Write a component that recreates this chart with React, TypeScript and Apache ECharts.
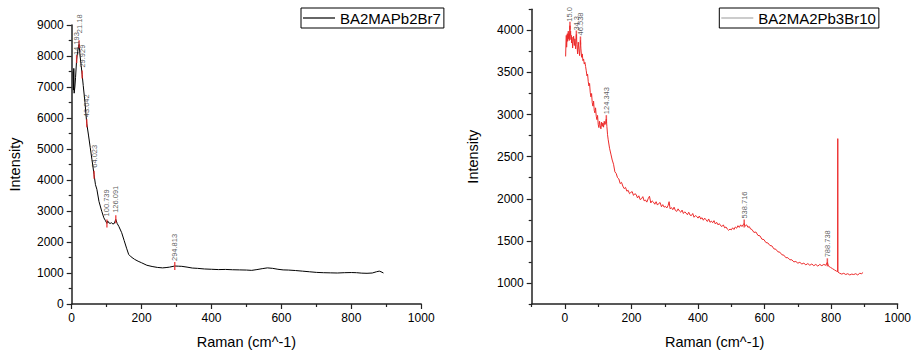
import React, { useEffect, useRef } from "react";
import * as echarts from "echarts";

// ---------- Left chart: BA2MAPb2Br7 ----------
const leftName = "BA2MAPb2Br7";
const leftX = [
  4, 5, 6, 7, 9, 11, 14.2, 17, 21.2, 24, 27, 29.9, 33, 38, 43,
  48, 53, 58, 64, 68, 72, 78, 86, 92, 96, 100.7, 103, 106, 110, 114, 118, 122, 126.1, 130, 135,
  143, 150, 157, 163, 170, 180, 190, 200, 215, 230, 245, 260, 270, 280, 294.8, 305, 315, 330, 345, 360,
  380, 400, 420, 440, 460, 480, 500, 515, 530, 545, 560, 575, 590, 605, 620, 640, 660, 680, 700, 720,
  740, 760, 780, 800, 815, 830, 845, 860, 872, 880, 885, 892,
];
const leftY = [
  7500, 6900, 7600, 6800, 7000, 7300, 7900, 8150, 8380, 8000, 7700, 7400, 7050, 6500, 5830,
  5450, 5050, 4650, 4170, 3850, 3700, 3310, 2990, 2780, 2700, 2600, 2680, 2620, 2600, 2620, 2580, 2600, 2730, 2600, 2500,
  2300, 2050, 1800, 1600, 1520, 1440, 1380, 1330, 1250, 1210, 1180, 1165, 1175, 1190, 1225, 1220, 1215, 1190, 1160, 1150,
  1130, 1120, 1110, 1115, 1105, 1100, 1095, 1085, 1110, 1140, 1165, 1150, 1120, 1100, 1095, 1080, 1060, 1040, 1020, 1010,
  1005, 1000, 1010, 1015, 1010, 995, 990, 1000, 1040, 1060, 1040, 1000,
];
const leftPeakX = [14.193, 21.18, 29.929, 43.042, 64.023, 100.739, 126.091, 294.813];
const leftPeakY = [7900, 8380, 7400, 5830, 4170, 2600, 2730, 1225];
const leftPeakLabels = ["14.193", "21.18", "29.929", "43.042", "64.023", "100.739", "126.091", "294.813"];
const leftYTicks = [0, 1000, 2000, 3000, 4000, 5000, 6000, 7000, 8000, 9000];
const leftXTicks = [0, 200, 400, 600, 800, 1000];

// ---------- Right chart: BA2MA2Pb3Br10 ----------
const rightName = "BA2MA2Pb3Br10";
const rightX = [
  2, 3, 4, 5, 6, 7, 8, 9, 10, 11, 12, 13, 14, 15, 16, 17, 18, 19, 20, 21,
  22, 23, 24, 26, 28, 30, 32, 34.3, 36, 38, 40, 42, 44, 46.5, 48, 50, 52, 54, 56, 58,
  60, 62, 64, 66, 68, 70, 72, 74, 76, 78, 80, 82, 84, 86, 88, 90, 92, 94, 96, 98,
  100, 102, 104, 106, 108, 110, 112, 114, 116, 118, 120, 122, 124.3, 126, 128,
  130, 134, 138, 142, 146, 150, 154, 158, 162, 166, 170, 174, 178, 182, 186, 190, 194, 198, 202, 206,
  210, 214, 218, 222, 226, 230, 234, 238, 242, 246, 250, 254, 258, 262, 266, 270, 274, 278, 282, 286,
  290, 294, 298, 302, 306, 310, 313, 316, 320, 324, 328, 332, 336, 340, 344, 348, 352, 356, 360, 364,
  368, 372, 376, 380, 384, 388, 392, 396, 400, 404, 408, 412, 416, 420, 424, 428, 432, 436, 440, 444,
  448, 452, 456, 460, 464, 468, 472, 476, 480, 484, 488, 492, 496, 500, 504, 508, 512, 516, 520, 524,
  528, 532, 536, 538.7, 542, 546, 550, 554, 558,
  562, 568, 574, 580, 586, 592, 598, 604, 610, 616, 622, 628, 634, 640, 646, 652, 658, 664, 670, 676,
  682, 688, 694, 700, 706, 712, 718, 724, 730, 736, 742, 748, 754, 760, 766, 772, 778, 784, 788.7, 792,
  798, 804, 810, 816, 819.6, 820, 820.4, 826, 832, 838, 844, 850, 856, 862, 868, 874, 880, 886, 892, 896,
];
const rightY = [
  3690, 3850, 3940, 3800, 3880, 3960, 3870, 3930, 3990, 3900, 3950, 3880, 3980, 4055, 3940, 3990, 3890, 3940, 3850, 3920,
  3870, 3790, 3860, 3930, 3820, 3900, 3780, 3950, 3830, 3720, 3860, 3770, 3700, 3880, 3780, 3680, 3720, 3640, 3660, 3600,
  3620, 3570, 3520, 3460, 3480, 3390, 3340, 3370, 3260, 3210, 3250, 3140, 3100, 3160, 3050, 3020, 3080, 2980, 2940, 2990,
  2880, 2845, 2920, 2870, 2830, 2910, 2860, 2900, 2850, 2920, 2880, 2900, 2945, 2860, 2760,
  2700, 2600, 2530, 2460, 2410, 2320, 2300, 2250, 2235, 2180, 2195, 2150, 2120, 2135, 2090, 2100, 2060, 2075, 2085, 2040,
  2060, 2050, 2010, 2035, 1990, 2000, 2025, 1975, 1985, 1960, 2000, 2030, 1950, 1975, 1960, 1935, 1965, 1925, 1945, 1955,
  1905, 1930, 1900, 1910, 1890, 1920, 1965, 1880, 1895, 1870, 1900, 1860, 1850, 1880, 1855, 1840, 1865, 1825, 1845, 1830,
  1810, 1840, 1805, 1800, 1825, 1780, 1800, 1790, 1770, 1795, 1760, 1775, 1745, 1770, 1750, 1730, 1760, 1720, 1735, 1715,
  1740, 1700, 1720, 1690, 1705, 1680, 1670, 1690, 1655, 1665, 1640, 1625, 1640, 1630, 1655, 1635, 1665, 1650, 1680, 1660,
  1690, 1670, 1695, 1705, 1675, 1690, 1660, 1670, 1640,
  1635, 1600, 1605, 1565, 1560, 1520, 1515, 1480, 1475, 1445, 1440, 1405, 1400, 1370, 1365, 1335, 1330, 1300, 1300, 1275,
  1275, 1250, 1255, 1235, 1245, 1225, 1235, 1215, 1230, 1210, 1225, 1205, 1220, 1200, 1220, 1205, 1220, 1210, 1245, 1200,
  1185, 1170, 1155, 1140, 1135, 2714, 1130, 1115, 1105, 1115, 1100, 1110, 1095, 1105, 1100, 1110, 1095, 1115, 1110, 1125,
];
const rightPeakX = [15.0, 34.3, 46.538, 124.343, 538.716, 788.738];
const rightPeakY = [4055, 3950, 3880, 2945, 1705, 1245];
const rightPeakLabels = ["15.0", "34.3", "46.538", "124.343", "538.716", "788.738"];
const rightYTicks = [1000, 1500, 2000, 2500, 3000, 3500, 4000];
const rightYMinorTicks = [750, 1250, 1750, 2250, 2750, 3250, 3750, 4250];
const rightXTicks = [0, 200, 400, 600, 800, 1000];
const rightXMinorTicks = [-100, 100, 300, 500, 700, 900];

const xName = "Raman (cm^-1)";
const yName = "Intensity";

// ---------- styling ----------
const FONT = "Liberation Sans, Arial, sans-serif";
const AXIS_COLOR = "#222";
const RED = "#ec2b2b";
const leftLabelOffsets = [[-1, 0], [6, 0], [2, 0], [1, 0], [2, 0], [2, 0], [1.5, 0], [0, 0]];
const rightLabelOffsets = [[-1, 0], [-1, 0], [0, 0], [0, 0], [0, 0], [0, 0]];

const axisLine = { show: true, onZero: false, lineStyle: { color: AXIS_COLOR, width: 1.5 } };
const tickStyle = { color: AXIS_COLOR, width: 1.2 };
const plain = (v: number) => String(v);
const labelStyle = { color: "#000", fontSize: 12, fontFamily: FONT, formatter: plain };
const nameStyle = { color: "#000", fontSize: 14.5, fontFamily: FONT };

function pairs(xs: number[], ys: number[]) {
  return xs.map((x, i) => [x, ys[i]]);
}

function peakSeries(xi: number, xs: number[], ys: number[], labels: string[], offsets: number[][]) {
  return {
    type: "scatter",
    name: "peaks" + xi,
    xAxisIndex: xi === 0 ? 0 : 1,
    yAxisIndex: xi === 0 ? 0 : 1,
    symbol: "rect",
    symbolSize: [1.5, 8],
    itemStyle: { color: RED },
    z: 5,
    label: {
      show: true,
      position: "top",
      rotate: 90,
      align: "left",
      verticalAlign: "middle",
      distance: 1,
      fontSize: 7.5,
      color: "#333",
      fontFamily: FONT,
      formatter: "{b}",
    },
    data: xs.map((x, i) => ({
      name: labels[i],
      value: [x, ys[i]],
      label: { offset: offsets[i] },
    })),
  };
}

function legendBox(name: string, left: number, iconColor: string) {
  return {
    data: [{ name, itemStyle: { color: iconColor } }],
    left,
    top: 8,
    orient: "horizontal",
    icon: "rect",
    borderColor: "#000",
    borderWidth: 1,
    borderRadius: 0,
    padding: [1, 3, 1, 2],
    itemWidth: 32,
    itemHeight: 1.2,
    textStyle: { fontSize: 15, color: "#000", fontFamily: FONT, lineHeight: 18 },
  };
}

export default function App() {
  const ref = useRef<HTMLDivElement>(null);

  useEffect(() => {
    if (!ref.current) return;
    const chart = echarts.init(ref.current, null, { renderer: "svg" });
    const option: any = {
      animation: false,
      backgroundColor: "#fff",
      textStyle: { fontFamily: FONT },
      grid: [
        { left: 71.7, top: 25, width: 349.5, height: 281.7 },
        { left: 531.7, top: 9.3, width: 366.8, height: 295.7 },
      ],
      legend: [legendBox(leftName, 301, "#000"), legendBox(rightName, 719.3, "#9a9a9a")],
      xAxis: [
        {
          type: "value",
          gridIndex: 0,
          position: "bottom",
          min: leftXTicks[0],
          max: leftXTicks[leftXTicks.length - 1],
          interval: 200,
          axisLine,
          axisTick: { show: true, length: 5, lineStyle: tickStyle },
          minorTick: { show: true, splitNumber: 2, length: 3, lineStyle: tickStyle },
          splitLine: { show: false },
          minorSplitLine: { show: false },
          axisLabel: { ...labelStyle, margin: 8 },
          name: xName,
          nameLocation: "middle",
          nameGap: 30,
          nameTextStyle: nameStyle,
        },
        {
          type: "value",
          gridIndex: 1,
          position: "bottom",
          min: -100,
          max: 1000,
          axisLine,
          axisTick: { show: true, length: 5, lineStyle: tickStyle, customValues: rightXTicks },
          splitLine: { show: false },
          axisLabel: { ...labelStyle, margin: 8, customValues: rightXTicks },
          name: xName,
          nameLocation: "middle",
          nameGap: 30,
          nameTextStyle: nameStyle,
        },
        {
          type: "value",
          gridIndex: 1,
          position: "bottom",
          min: -100,
          max: 1000,
          axisLine: { show: false, onZero: false },
          axisTick: { show: true, length: 3, lineStyle: tickStyle, customValues: rightXMinorTicks },
          splitLine: { show: false },
          axisLabel: { show: false },
        },
      ],
      yAxis: [
        {
          type: "value",
          gridIndex: 0,
          position: "left",
          min: leftYTicks[0],
          max: leftYTicks[leftYTicks.length - 1],
          interval: 1000,
          axisLine,
          axisTick: { show: true, length: 5, lineStyle: tickStyle },
          minorTick: { show: true, splitNumber: 2, length: 3, lineStyle: tickStyle },
          splitLine: { show: false },
          minorSplitLine: { show: false },
          axisLabel: { ...labelStyle, margin: 8 },
          name: yName,
          nameLocation: "middle",
          nameGap: 49,
          nameTextStyle: nameStyle,
        },
        {
          type: "value",
          gridIndex: 1,
          position: "left",
          min: 750,
          max: 4250,
          axisLine,
          axisTick: { show: true, length: 5, lineStyle: tickStyle, customValues: rightYTicks },
          splitLine: { show: false },
          axisLabel: { ...labelStyle, margin: 8, customValues: rightYTicks },
          name: yName,
          nameLocation: "middle",
          nameGap: 51,
          nameTextStyle: nameStyle,
        },
        {
          type: "value",
          gridIndex: 1,
          position: "left",
          min: 750,
          max: 4250,
          axisLine: { show: false, onZero: false },
          axisTick: { show: true, length: 3, lineStyle: tickStyle, customValues: rightYMinorTicks },
          splitLine: { show: false },
          axisLabel: { show: false },
        },
      ],
      series: [
        {
          type: "line",
          name: leftName,
          xAxisIndex: 0,
          yAxisIndex: 0,
          symbol: "none",
          color: "#000",
          lineStyle: { color: "#000", width: 1 },
          data: pairs(leftX, leftY),
        },
        peakSeries(0, leftPeakX, leftPeakY, leftPeakLabels, leftLabelOffsets),
        {
          type: "line",
          name: rightName,
          xAxisIndex: 1,
          yAxisIndex: 1,
          symbol: "none",
          color: RED,
          lineStyle: { color: RED, width: 1 },
          data: pairs(rightX, rightY),
        },
        peakSeries(1, rightPeakX, rightPeakY, rightPeakLabels, rightLabelOffsets),
      ],
    };
    chart.setOption(option);
    return () => chart.dispose();
  }, []);

  return (
    <div
      ref={ref}
      style={{ position: "fixed", left: 0, top: 0, width: 914, height: 354, background: "#fff" }}
    />
  );
}
